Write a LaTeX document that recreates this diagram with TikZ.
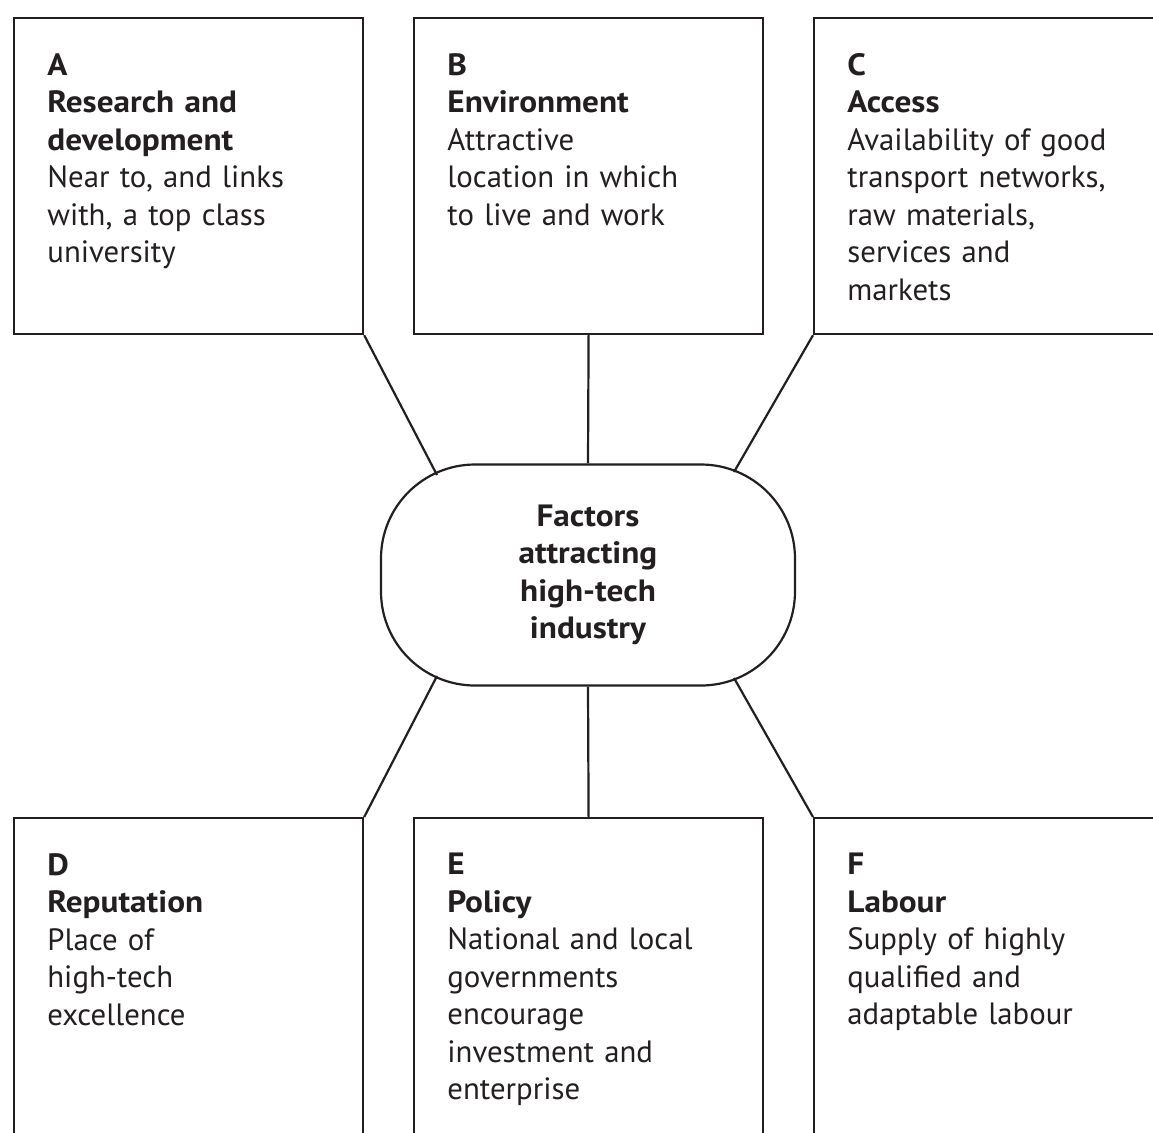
\documentclass[tikz,border=0pt]{standalone}
\usepackage{fontspec}
\setmainfont{PT Sans}[BoldFeatures={FakeStretch=1.08}]
\usetikzlibrary{positioning}
\definecolor{ink}{RGB}{35,31,32}

\begin{document}
\begin{tikzpicture}[x=0.5pt,y=-0.5pt,
  box/.style={draw=ink,line width=1.1pt,minimum width=174.5pt,minimum height=158pt,inner sep=0pt,anchor=north west},
  lowbox/.style={box,minimum height=180pt},
  core/.style={draw=ink,line width=1.1pt,rounded corners=47pt,minimum width=207pt,minimum height=110.5pt,
    align=center,text=ink,font=\fontsize{15.4}{18.75}\selectfont\bfseries},
  txt/.style={inner sep=0pt,text width=165pt,align=left,text=ink,font=\fontsize{15.4}{18.75}\selectfont},
  link/.style={draw=ink,line width=1.1pt}]
  \useasboundingbox (0,0) rectangle (1153,1132);
  \clip (0,0) rectangle (1153,1132);
  \node[box] (A) at (13,17) {};
  \node[box] (B) at (413,17) {};
  \node[box] (C) at (813,17) {};
  \node[lowbox] (D) at (13,817) {};
  \node[lowbox] (E) at (413,817) {};
  \node[lowbox] (F) at (813,817) {};
  \node[core] (core) at (588,575) {Factors\\attracting\\high-tech\\industry};
  \node[txt,below right=18pt and 17pt of A.north west] (tA) {\textbf{A}\\\textbf{Research and}\\\textbf{development}\\Near to, and links\\with, a top class\\university};
  \node[txt,below right=18pt and 17pt of B.north west] (tB) {\textbf{B}\\\textbf{Environment}\\Attractive\\location in which\\to live and work};
  \node[txt,below right=18pt and 17pt of C.north west] (tC) {\textbf{C}\\\textbf{Access}\\Availability of good\\transport networks,\\raw materials,\\services and\\markets};
  \node[txt,below right=18pt and 17pt of D.north west] (tD) {\textbf{D}\\\textbf{Reputation}\\Place of\\high-tech\\excellence};
  \node[txt,below right=18pt and 17pt of E.north west] (tE) {\textbf{E}\\\textbf{Policy}\\National and local\\governments\\encourage\\investment and\\enterprise};
  \node[txt,below right=18pt and 17pt of F.north west] (tF) {\textbf{F}\\\textbf{Labour}\\Supply of highly\\qualified and\\adaptable labour};
  \coordinate (ca) at (437,475);
  \coordinate (cc) at (734,472);
  \coordinate (cd) at (437,676);
  \coordinate (cf) at (734,678);
  \draw[link] (A.south east) -- (ca);
  \draw[link] (B.south) -- (core.north);
  \draw[link] (C.south west) -- (cc);
  \draw[link] (D.north east) -- (cd);
  \draw[link] (E.north) -- (core.south);
  \draw[link] (F.north west) -- (cf);
\end{tikzpicture}
\end{document}
